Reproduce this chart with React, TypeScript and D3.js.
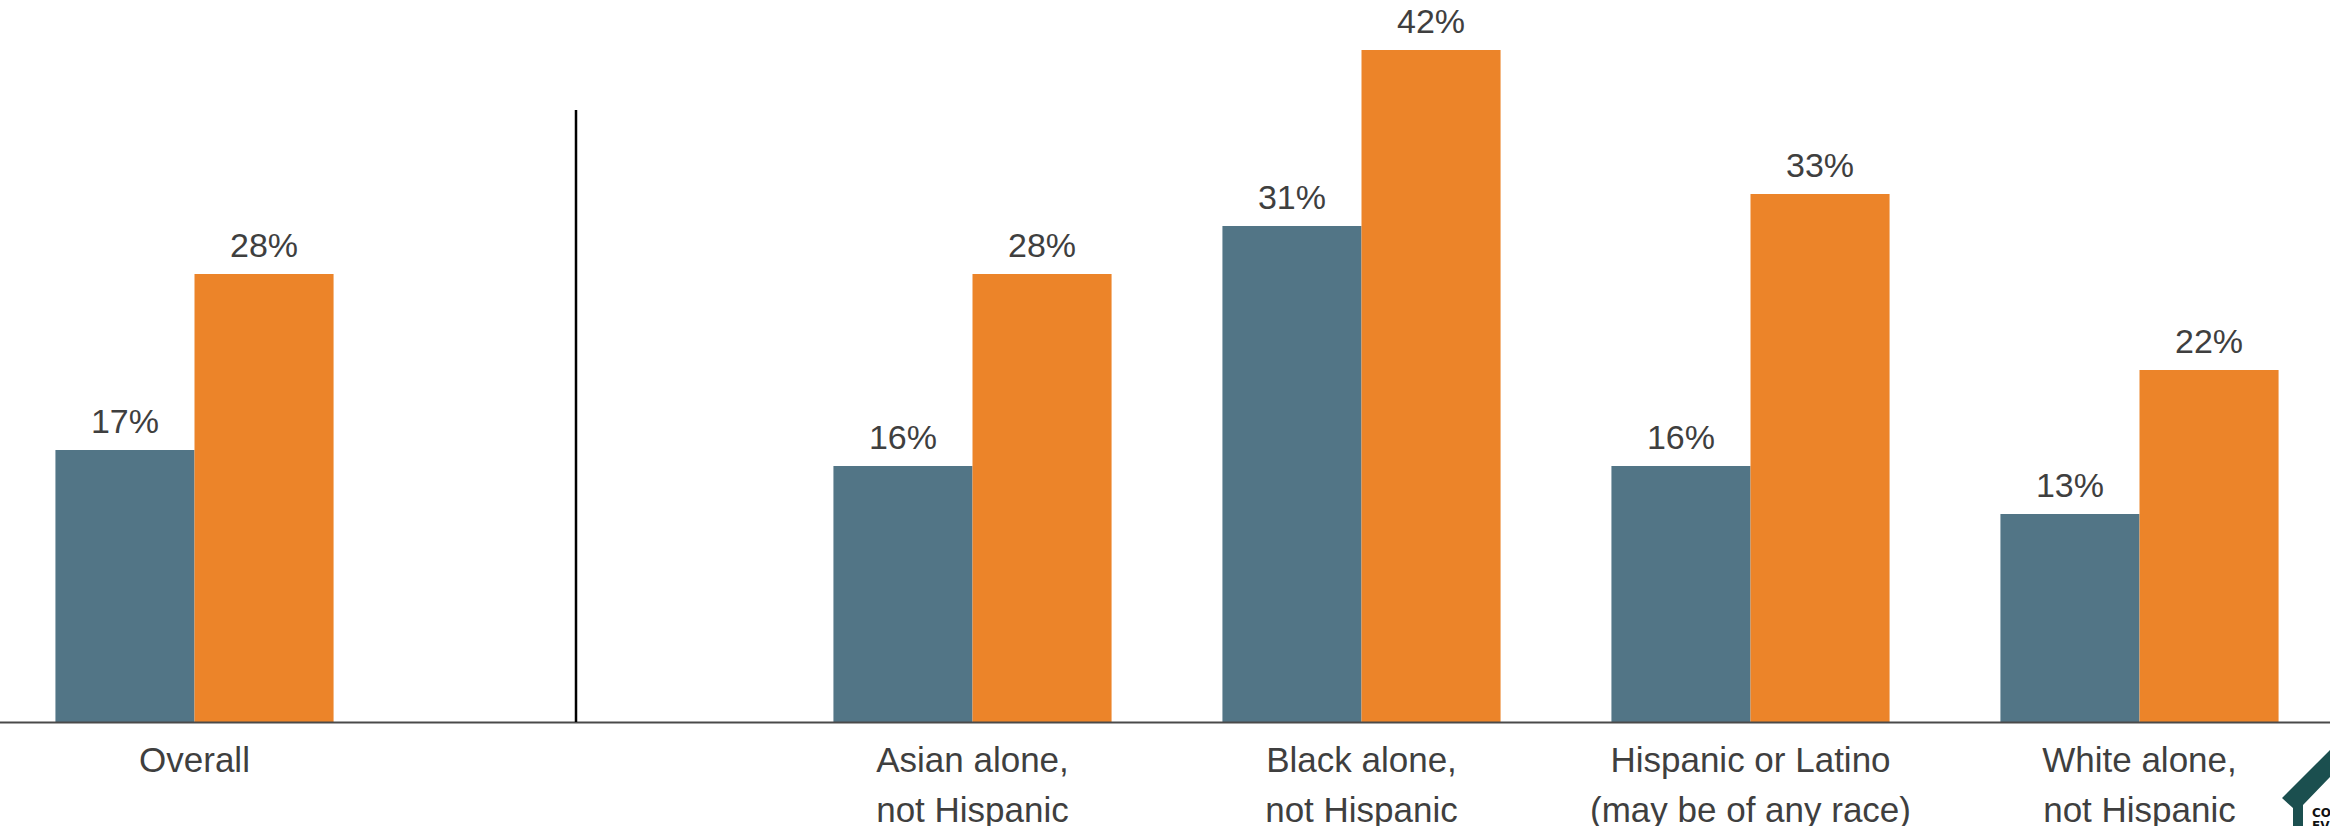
import React, { useEffect, useRef } from "react";
import * as d3 from "d3";

const categories = ["Overall", "", "Asian alone,\nnot Hispanic", "Black alone,\nnot Hispanic", "Hispanic or Latino\n(may be of any race)", "White alone,\nnot Hispanic"];
const seriesNames = ["Series A", "Series B"];
const seriesA = [17, null, 16, 31, 16, 13];
const seriesB = [28, null, 28, 42, 33, 22];
const colors = ["#527586", "#EC8429"];

const W = 2330;
const H = 826;

export default function App() {
  const ref = useRef<SVGSVGElement | null>(null);

  useEffect(() => {
    const svg = d3.select(ref.current);
    svg.selectAll("*").remove();

    const baseline = 722;
    const x = d3.scaleBand<string>().domain(categories.map((c, i) => String(i))).range([0, 2334]).paddingInner(0.285).paddingOuter(0.1425);
    const y = d3.scaleLinear().domain([0, 45]).range([baseline, baseline - 720]);
    const inner = d3.scaleBand<string>().domain(seriesNames).range([0, x.bandwidth()]);

    const g = svg.append("g");
    const rows = categories.map((c, i) => ({ i, c, vals: [seriesA[i], seriesB[i]] }));

    rows.forEach((r) => {
      r.vals.forEach((v, si) => {
        if (v == null) return;
        const x0 = (x(String(r.i)) as number) + (inner(seriesNames[si]) as number);
        g.append("rect")
          .attr("x", x0)
          .attr("y", y(v))
          .attr("width", inner.bandwidth())
          .attr("height", baseline - y(v))
          .attr("fill", colors[si]);
        g.append("text")
          .attr("x", x0 + inner.bandwidth() / 2)
          .attr("y", y(v) - 17)
          .attr("text-anchor", "middle")
          .attr("font-family", "'Liberation Sans', Arial, sans-serif")
          .attr("font-size", 34)
          .attr("fill", "#3f3f3f")
          .text(`${v}%`);
      });
      if (r.c) {
        const lines = r.c.split("\n");
        const t = g.append("text")
          .attr("text-anchor", "middle")
          .attr("font-family", "'Liberation Sans', Arial, sans-serif")
          .attr("font-size", 35)
          .attr("fill", "#3f3f3f");
        lines.forEach((ln, li) => {
          t.append("tspan")
            .attr("x", (x(String(r.i)) as number) + x.bandwidth() / 2)
            .attr("y", 772 + li * 50)
            .text(ln);
        });
      }
    });

    // baseline axis
    g.append("line").attr("x1", 0).attr("x2", W).attr("y1", baseline + 0.5).attr("y2", baseline + 0.5)
      .attr("stroke", "#4a4a4a").attr("stroke-width", 2);
    // separator
    g.append("line").attr("x1", 576).attr("x2", 576).attr("y1", 110).attr("y2", baseline)
      .attr("stroke", "#000").attr("stroke-width", 2.5);

    // logo fragment
    g.append("path")
      .attr("d", "M2330,750 L2282,798 L2293,808 L2293,826 L2303,826 L2303,805 L2330,777 Z")
      .attr("fill", "#1b4f4f");
    g.append("text").attr("x", 2312).attr("y", 817).attr("font-family", "'DejaVu Sans', sans-serif")
      .attr("font-weight", "bold").attr("font-size", 12).attr("fill", "#111").text("CO");
    g.append("text").attr("x", 2312).attr("y", 830).attr("font-family", "'DejaVu Sans', sans-serif")
      .attr("font-weight", "bold").attr("font-size", 12).attr("fill", "#111").text("EV");
  }, []);

  return (
    <div style={{ position: "fixed", left: 0, top: 0, width: W, height: H, background: "#fff" }}>
      <svg ref={ref} width={W} height={H} style={{ display: "block" }} />
    </div>
  );
}
